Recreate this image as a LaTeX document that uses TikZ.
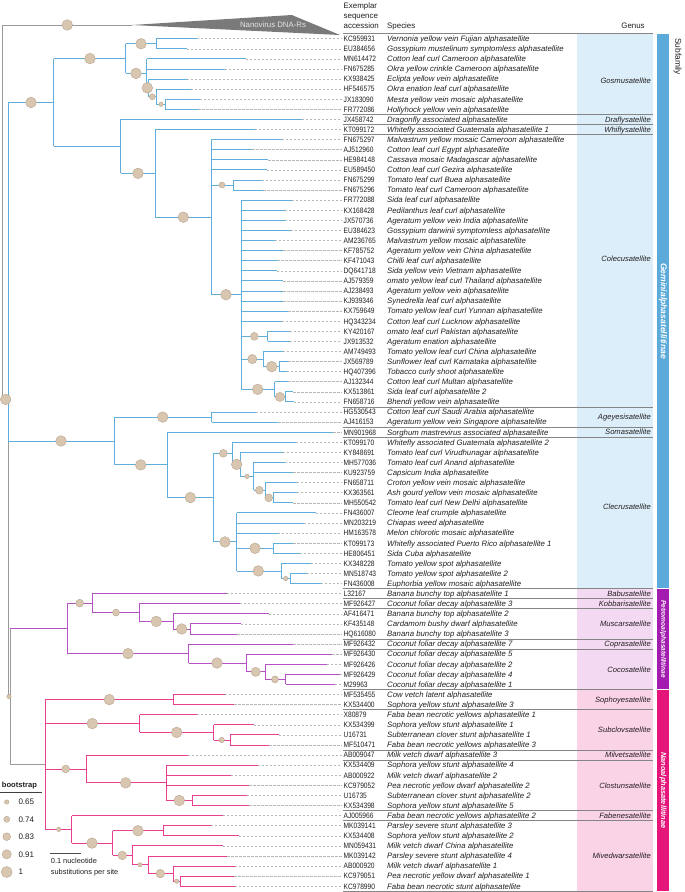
\documentclass[tikz,border=0pt]{standalone}
\usepackage{fontspec}
\setmainfont{Liberation Sans}
\newfontfamily\accfont[FakeStretch=0.85]{Liberation Sans}
\definecolor{gem}{HTML}{5FAEDC}
\definecolor{gemlt}{HTML}{9ED0EE}
\definecolor{pet}{HTML}{B452C4}
\definecolor{nan}{HTML}{E8408E}
\definecolor{grl}{HTML}{9A9A9A}
\definecolor{txt}{HTML}{231F20}
\definecolor{bubf}{HTML}{D8C6B0}
\definecolor{bubd}{HTML}{B9A48E}
\definecolor{boxgem}{HTML}{DCEEF9}
\definecolor{boxpet}{HTML}{F4D9F2}
\definecolor{boxnan}{HTML}{FBD3E7}
\definecolor{bargem}{HTML}{5BAAD9}
\definecolor{barpet}{HTML}{A21CAF}
\definecolor{barnan}{HTML}{E5157A}
\pgfmathdeclarefunction{rowy}{1}{\pgfmathparse{38.7+(#1-1)*10.09}}
\tikzset{
  gl/.style={draw=gem, line width=0.9pt, line cap=square},
  pl/.style={draw=pet, line width=0.9pt, line cap=square},
  nl/.style={draw=nan, line width=0.9pt, line cap=square},
  gr/.style={draw=grl, line width=0.9pt, line cap=square},
  lead/.style={draw=black!28, line width=0.55pt, dash pattern=on 2.2pt off 1.8pt},
  bub/.style={fill=bubf, draw=bubd, line width=0.4pt},
  sep/.style={draw=black!48, line width=0.6pt},
  acc/.style={anchor=base west, inner sep=0pt, text=txt, font=\accfont\fontsize{7.8}{9}\selectfont},
  spc/.style={anchor=base west, inner sep=0pt, text=txt, font=\fontsize{7.8}{9}\selectfont\itshape},
  gen/.style={anchor=base east, inner sep=0pt, text=txt, font=\fontsize{7.6}{9}\selectfont\itshape},
  hdr/.style={anchor=base west, inner sep=0pt, text=txt, font=\fontsize{7.9}{9}\selectfont},
  sub/.style={rotate=-90, inner sep=0pt, text=white, font=\bfseries\itshape},
  leg/.style={anchor=base west, inner sep=0pt, text=txt, font=\fontsize{8}{9}\selectfont}
}
\newcommand\mkleaf[4][gl]{\draw[#1] (#3,{rowy(#2)}) -- (#4,{rowy(#2)});
  \draw[lead] (#4,{rowy(#2)}) -- (341.5,{rowy(#2)});}
\newcommand\mkclade[6][gl]{\draw[#1] (#2,{rowy(#4)}) -- (#3,{rowy(#4)});
  \draw[#1] (#3,{rowy(#5)}) -- (#3,{rowy(#6)});}
\newcommand\mkbub[3]{\filldraw[bub] (#2,{rowy(#3)}) circle (#1pt);}
\begin{document}
\begin{tikzpicture}[x=1pt,y=-1pt]
\useasboundingbox (0,0) rectangle (685,892);
\fill[white] (0,0) rectangle (685,892);
% ---------- genus boxes and subfamily bars
\fill[boxgem] (577,{rowy(0)+5.05}) rectangle (653,{rowy(55)+5.05});
\fill[boxpet] (577,{rowy(55)+5.05}) rectangle (653,{rowy(65)+5.05});
\fill[boxnan] (577,{rowy(65)+5.05}) rectangle (653,{rowy(85)+5.05});
\fill[bargem] (657,{rowy(0)+5.05}) rectangle (669,{rowy(55)+4.6});
\fill[barpet] (657,{rowy(55)+5.5}) rectangle (669,{rowy(65)+4.6});
\fill[barnan] (657,{rowy(65)+5.5}) rectangle (669,{rowy(85)+5.05});
\node[sub, font=\fontsize{8.6}{9}\selectfont\bfseries\itshape] (sfg) at (663,{(rowy(0)+rowy(55))/2+5.05}) {Geminialphasatellitinae};
\node[sub, font=\fontsize{6.6}{8}\selectfont\bfseries\itshape] (sfp) at (663,{(rowy(55)+rowy(65))/2+5.05}) {Petromoalphasatellitinae};
\node[sub, font=\fontsize{7.4}{9}\selectfont\bfseries\itshape] (sfn) at (663,{(rowy(65)+rowy(85))/2+5.05}) {Nanoalphasatellitinae};
\node[rotate=-90, inner sep=0pt, text=txt, font=\fontsize{8.4}{10}\selectfont] (sfh) at (677.5,56.5) {Subfamily};
% separators
\foreach \b in {0,8,9,10,37,39,40,55,56,57,60,61,65,67,71,72,77,78,85}
  \draw[sep] (343,{rowy(\b)+5.05}) -- (653,{rowy(\b)+5.05});
% headers
\node[hdr] (h1) at (343.5,8.8) {Exemplar};
\node[hdr] (h2) at (343.5,18.6) {sequence};
\node[hdr] (h3) at (343.5,28.3) {accession};
\node[hdr] (h4) at (387,28.3) {Species};
\node[hdr, anchor=base] (h5) at (633,28.3) {Genus};
% genus labels
\node[gen] (g1) at (651,{81+2.7}) {Gosmusatellite};
\node[gen] (g2) at (651,{rowy(9)+2.7}) {Draflysatellite};
\node[gen] (g3) at (651,{rowy(10)+2.7}) {Whiflysatellite};
\node[gen] (g4) at (651,{259+2.7}) {Colecusatellite};
\node[gen] (g5) at (651,{rowy(38.5)+2.7}) {Ageyesisatellite};
\node[gen] (g6) at (651,{rowy(40)+2.7}) {Somasatellite};
\node[gen] (g7) at (651,{507+2.7}) {Clecrusatellite};
\node[gen] (g8) at (651,{rowy(56)+2.7}) {Babusatellite};
\node[gen] (g9) at (651,{rowy(57)+2.7}) {Kobbarisatellite};
\node[gen] (g10) at (651,{rowy(59)+2.7}) {Muscarsatellite};
\node[gen] (g11) at (651,{rowy(61)+2.7}) {Coprasatellite};
\node[gen] (g12) at (651,{rowy(63.5)+2.7}) {Cocosatellite};
\node[gen] (g13) at (651,{rowy(66.5)+2.7}) {Sophoyesatellite};
\node[gen] (g14) at (651,{rowy(69.5)+2.7}) {Subclovsatellite};
\node[gen] (g15) at (651,{rowy(72)+2.7}) {Milvetsatellite};
\node[gen] (g16) at (651,{rowy(75)+2.7}) {Clostunsatellite};
\node[gen] (g17) at (651,{rowy(78)+2.7}) {Fabenesatellite};
\node[gen] (g18) at (651,{rowy(82)+2.7}) {Mivedwarsatellite};
% accession and species
\foreach \i/\ac/\sn in {1/KC959931/Vernonia yellow vein Fujian alphasatellite,
2/EU384656/Gossypium mustelinum symptomless alphasatellite,
3/MN614472/Cotton leaf curl Cameroon alphasatellite,
4/FN675285/Okra yellow crinkle Cameroon alphasatellite,
5/KX938425/Eclipta yellow vein alphasatellite,
6/HF546575/Okra enation leaf curl alphasatellite,
7/JX183090/Mesta yellow vein mosaic alphasatellite,
8/FR772086/Hollyhock yellow vein alphasatellite,
9/JX458742/Dragonfly associated alphasatellite,
10/KT099172/Whitefly associated Guatemala alphasatellite 1,
11/FN675297/Malvastrum yellow mosaic Cameroon alphasatellite,
12/AJ512960/Cotton leaf curl Egypt alphasatellite,
13/HE984148/Cassava mosaic Madagascar alphasatellite,
14/EU589450/Cotton leaf curl Gezira alphasatellite,
15/FN675299/Tomato leaf curl Buea alphasatellite,
16/FN675296/Tomato leaf curl Cameroon alphasatellite,
17/FR772088/Sida leaf curl alphasatellite,
18/KX168428/Pedilanthus leaf curl alphasatellite,
19/JX570736/Ageratum yellow vein India alphasatellite,
20/EU384623/Gossypium darwinii symptomless alphasatellite,
21/AM236765/Malvastrum yellow mosaic alphasatellite,
22/KF785752/Ageratum yellow vein China alphasatellite,
23/KF471043/Chilli leaf curl alphasatellite,
24/DQ641718/Sida yellow vein Vietnam alphasatellite,
25/AJ579359/omato yellow leaf curl Thailand alphasatellite,
26/AJ238493/Ageratum yellow vein alphasatellite,
27/KJ939346/Synedrella leaf curl alphasatellite,
28/KX759649/Tomato yellow leaf curl Yunnan alphasatellite,
29/HQ343234/Cotton leaf curl Lucknow alphasatellite,
30/KY420167/omato leaf curl Pakistan alphasatellite,
31/JX913532/Ageratum enation alphasatellite,
32/AM749493/Tomato yellow leaf curl China alphasatellite,
33/JX569789/Sunflower leaf curl Karnataka alphasatellite,
34/HQ407396/Tobacco curly shoot alphasatellite,
35/AJ132344/Cotton leaf curl Multan alphasatellite,
36/KX513861/Sida leaf curl alphasatellite 2,
37/FN658716/Bhendi yellow vein alphasatellite,
38/HG530543/Cotton leaf curl Saudi Arabia alphasatellite,
39/AJ416153/Ageratum yellow vein Singapore alphasatellite,
40/MN901968/Sorghum mastrevirus associated alphasatellite,
41/KT099170/Whitefly associated Guatemala alphasatellite 2,
42/KY848691/Tomato leaf curl Virudhunagar alphasatellite,
43/MH577036/Tomato leaf curl Anand alphasatellite,
44/KU923759/Capsicum India alphasatellite,
45/FN658711/Croton yellow vein mosaic alphasatellite,
46/KX363561/Ash gourd yellow vein mosaic alphasatellite,
47/MH550542/Tomato leaf curl New Delhi alphasatellite,
48/FN436007/Cleome leaf crumple alphasatellite,
49/MN203219/Chiapas weed alphasatellite,
50/HM163578/Melon chlorotic mosaic alphasatellite,
51/KT099173/Whitefly associated Puerto Rico alphasatellite 1,
52/HE806451/Sida Cuba alphasatellite,
53/KX348228/Tomato yellow spot alphasatellite,
54/MN518743/Tomato yellow spot alphasatellite 2,
55/FN436008/Euphorbia yellow mosaic alphasatellite,
56/L32167/Banana bunchy top alphasatellite 1,
57/MF926427/Coconut foliar decay alphasatellite 3,
58/AF416471/Banana bunchy top alphasatellite 2,
59/KF435148/Cardamom bushy dwarf alphasatellite,
60/HQ616080/Banana bunchy top alphasatellite 3,
61/MF926432/Coconut foliar decay alphasatellite 7,
62/MF926430/Coconut foliar decay alphasatellite 5,
63/MF926426/Coconut foliar decay alphasatellite 2,
64/MF926429/Coconut foliar decay alphasatellite 4,
65/M29963/Coconut foliar decay alphasatellite 1,
66/MF535455/Cow vetch latent alphasatellite,
67/KX534400/Sophora yellow stunt alphasatellite 3,
68/X80879/Faba bean necrotic yellows alphasatellite 1,
69/KX534399/Sophora yellow stunt alphasatellite 1,
70/U16731/Subterranean clover stunt alphasatellite 1,
71/MF510471/Faba bean necrotic yellows alphasatellite 3,
72/AB009047/Milk vetch dwarf alphasatellite 3,
73/KX534409/Sophora yellow stunt alphasatellite 4,
74/AB000922/Milk vetch dwarf alphasatellite 2,
75/KC979052/Pea necrotic yellow dwarf alphasatellite 2,
76/U16735/Subterranean clover stunt alphasatellite 2,
77/KX534398/Sophora yellow stunt alphasatellite 5,
78/AJ005966/Faba bean necrotic yellows alphasatellite 2,
79/MK039141/Parsley severe stunt alphasatellite 3,
80/KX534408/Sophora yellow stunt alphasatellite 2,
81/MN059431/Milk vetch dwarf China alphasatellite,
82/MK039142/Parsley severe stunt alphasatellite 4,
83/AB000920/Milk vetch dwarf alphasatellite 1,
84/KC979051/Pea necrotic yellow dwarf alphasatellite 1,
85/KC978990/Faba bean necrotic stunt alphasatellite}
{
  \node[acc] (a\i) at (343.5,{rowy(\i)+2.8}) {\ac};
  \node[spc] (s\i) at (387,{rowy(\i)+2.8}) {\sn};
}
% ---------- tree: root and outgroup
\fill[black!52] (131.7,25) -- (291.7,15) -- (340,35) -- cycle;
\node[inner sep=0pt, text=black!10, font=\fontsize{7.8}{9}\selectfont] (nano) at (273,24.5) {Nanovirus DNA-Rs};
\draw[gr] (131.7,25) -- (2.7,25) -- (2.7,{rowy(36.75)}) -- (8.3,{rowy(36.75)});
\draw[gl] (8.3,{rowy(7.32)}) -- (8.3,{rowy(40.87)});
\draw[gr] (8.3,{rowy(40.87)}) -- (8.3,{rowy(66.19)});
% Gemini A
\mkclade{8.3}{53.7}{7.32}{2.97}{11.67}
\mkclade{53.7}{125.7}{2.97}{1.5}{4.44}
\mkclade{125.7}{156.3}{1.5}{1}{2}
\mkclade{125.7}{146.7}{4.44}{3}{5.875}
\mkclade{146.7}{148.3}{5.875}{5}{6.75}
\mkclade{148.3}{156.3}{6.75}{6}{7.5}
\mkclade{156.3}{165.3}{7.5}{7}{8}
\mkclade{53.7}{120.7}{11.67}{9}{14.34}
\mkclade{120.7}{155.3}{14.34}{10}{18.69}
\mkclade{155.3}{211}{18.69}{11}{26.375}
\mkclade{211}{233.3}{15.5}{15}{16}
\mkclade{211}{241}{26.375}{17}{35.75}
\mkclade{241}{267.7}{30.5}{30}{31}
\mkclade{241}{263.3}{32.75}{32}{33.5}
\mkclade{263.3}{279.3}{33.5}{33}{34}
\mkclade{241}{274.7}{35.75}{35}{36.5}
\mkclade{274.7}{285}{36.5}{36}{37}
% Gemini B
\mkclade{8.3}{114.3}{40.87}{38.5}{43.24}
\mkclade{114.3}{211.7}{38.5}{38}{39}
\mkclade{114.3}{167.3}{43.24}{40}{46.48}
\mkclade{167.3}{213.3}{46.48}{42.09}{50.875}
\mkclade{213.3}{232.7}{42.09}{41}{43.19}
\mkclade{232.7}{240.3}{43.19}{42}{44.375}
\mkclade{240.3}{253.7}{44.375}{43}{45.75}
\mkclade{253.7}{265}{45.75}{45}{46.5}
\mkclade{265}{273.3}{46.5}{46}{47}
\mkclade{213.3}{236.7}{50.875}{48}{53.75}
\mkclade{236.7}{273.3}{51.5}{51}{52}
\mkclade{236.7}{281}{53.75}{53}{54.5}
\mkclade{281}{290.3}{54.5}{54}{55}
% Petro + Nano
\draw[gr] (8.3,{rowy(66.19)}) -- (10,{rowy(66.19)});
\draw[gr] (10,{rowy(59.44)}) -- (10,{rowy(72.93)});
\mkclade[pl]{10}{67.3}{59.44}{56.94}{61.94}
\mkclade[pl]{67.3}{92.3}{56.94}{56}{57.875}
\mkclade[pl]{92.3}{139.3}{57.875}{57}{58.75}
\mkclade[pl]{139.3}{173.3}{58.75}{58}{59.5}
\mkclade[pl]{173.3}{190.3}{59.5}{59}{60}
\mkclade[pl]{67.3}{188.7}{61.94}{61}{62.875}
\mkclade[pl]{188.7}{246}{62.875}{62}{63.75}
\mkclade[pl]{246}{265.3}{63.75}{63}{64.5}
\mkclade[pl]{265.3}{285.7}{64.5}{64}{65}
\draw[gr] (10,{rowy(72.93)}) -- (45.3,{rowy(72.93)});
\draw[nl] (45.3,{rowy(66.5)}) -- (45.3,{rowy(79.36)});
\mkclade[nl]{45.3}{173}{66.5}{66}{67}
\mkclade[nl]{45.3}{139.7}{68.875}{68}{69.75}
\mkclade[nl]{139.7}{213.7}{69.75}{69}{70.5}
\mkclade[nl]{213.7}{230}{70.5}{70}{71}
\mkclade[nl]{45.3}{86}{73.375}{72}{74.75}
\mkclade[nl]{86}{166.3}{74.75}{73}{76.5}
\mkclade[nl]{166.3}{192.3}{76.5}{76}{77}
\mkclade[nl]{45.3}{71.7}{79.36}{78}{80.72}
\mkclade[nl]{71.7}{112.7}{80.72}{79.5}{81.94}
\mkclade[nl]{112.7}{163.3}{79.5}{79}{80}
\mkclade[nl]{112.7}{132.3}{81.94}{81}{82.875}
\mkclade[nl]{132.3}{148}{82.875}{82}{83.75}
\mkclade[nl]{148}{173}{83.75}{83}{84.5}
\mkclade[nl]{173}{180.3}{84.5}{84}{85}
% leaves
\foreach \r/\xa/\xb in {1/156.3/196.7, 2/156.3/186.7, 3/146.7/245.7, 4/146.7/225, 5/148.3/186.7, 6/156.3/190.7, 7/165.3/200, 8/165.3/198.3, 9/120.7/301.7, 10/155.3/255, 11/211/281.7, 12/211/252.3, 13/211/268.3, 14/211/266.7, 15/233.3/261.7, 16/233.3/263.3, 17/241/291.7, 18/241/285, 19/241/285, 20/241/290.7, 21/241/275, 22/241/283.3, 23/241/277.3, 24/241/276.7, 25/241/283.3, 26/241/283.3, 27/241/283.3, 28/241/288.3, 29/241/281.7, 30/267.7/290, 31/267.7/290, 32/263.3/282.7, 33/279.3/288.3, 34/279.3/286.7, 35/274.7/288.3, 36/285/293.3, 37/285/294, 38/211.7/256, 39/211.7/278.3, 40/167.3/333.3, 41/232.7/296, 42/240.3/282.7, 43/253.7/285, 44/253.7/293.3, 45/265/296.7, 46/273.3/296.7, 47/273.3/293.3, 48/236.7/316, 49/236.7/304, 50/236.7/277.7, 51/273.3/293.3, 52/273.3/300, 53/281/310.7, 54/290.3/306.7, 55/290.3/320.7}
  {\mkleaf{\r}{\xa}{\xb}}
\foreach \r/\xa/\xb in {56/92.3/226.7, 57/139.3/240, 58/173.3/268.7, 59/190.3/241, 60/190.3/237.3, 61/188.7/293.3, 62/246/332.3, 63/265.3/326.7, 64/285.7/340, 65/285.7/335}
  {\mkleaf[pl]{\r}{\xa}{\xb}}
\foreach \r/\xa/\xb in {66/173/225, 67/173/234.3, 68/139.7/196.7, 69/213.7/254, 70/230/279, 71/230/269.3, 72/86/187.7, 73/166.3/257.7, 74/166.3/230.7, 75/166.3/249.3, 76/192.3/246.7, 77/192.3/249.3, 78/71.7/222.7, 79/163.3/211, 80/163.3/239, 81/132.3/222.7, 82/148/227.3, 83/173/235, 84/180.3/234.3, 85/180.3/235}
  {\mkleaf[nl]{\r}{\xa}{\xb}}
% bubbles
\filldraw[bub] (67.3,25) circle (5.3pt);
\mkbub{5.3}{5.7}{36.75}
\mkbub{5.3}{31}{7.32}
\mkbub{5.3}{90}{2.97}
\mkbub{5.3}{141}{1.5}
\mkbub{5.3}{136}{4.44}
\mkbub{5.3}{147.3}{5.875}
\mkbub{3}{152.3}{6.75}
\mkbub{2.2}{161}{7.5}
\mkbub{5.3}{138}{14.34}
\mkbub{5.3}{183.3}{18.69}
\mkbub{3}{222}{15.5}
\mkbub{5.3}{226}{26.375}
\mkbub{3.9}{254.3}{30.5}
\mkbub{4.6}{252.3}{32.75}
\mkbub{5.3}{271.7}{33.5}
\mkbub{5.3}{257.7}{35.75}
\mkbub{4.6}{280}{36.5}
\mkbub{5.3}{61}{40.87}
\mkbub{5.3}{162.7}{38.5}
\mkbub{5.3}{140.7}{43.24}
\mkbub{5.3}{190.3}{46.48}
\mkbub{3.9}{223.3}{42.09}
\mkbub{5.3}{236.7}{43.19}
\mkbub{2.2}{247}{44.375}
\mkbub{3.9}{259.3}{45.75}
\mkbub{3.9}{268.7}{46.5}
\mkbub{5.3}{225}{50.875}
\mkbub{5.3}{255}{51.5}
\mkbub{5.3}{258.3}{53.75}
\mkbub{2.2}{285.7}{54.5}
\mkbub{2.2}{9}{66.19}
\mkbub{3.9}{79.7}{56.94}
\mkbub{3.5}{116}{57.875}
\mkbub{5.3}{156.3}{58.75}
\mkbub{5.3}{181.7}{59.5}
\mkbub{5.3}{128}{61.94}
\mkbub{5.3}{217}{62.875}
\mkbub{4.6}{255.7}{63.75}
\mkbub{3.5}{275}{64.5}
\mkbub{5.3}{109.3}{66.5}
\mkbub{5.3}{92.3}{68.875}
\mkbub{5.3}{176.7}{69.75}
\mkbub{2.7}{221.7}{70.5}
\mkbub{3.9}{65.7}{73.375}
\mkbub{5.3}{125.7}{74.75}
\mkbub{5.3}{179.3}{76.5}
\mkbub{2.2}{58.7}{79.36}
\mkbub{5.3}{92}{80.72}
\mkbub{5.3}{138}{79.5}
\mkbub{4.3}{122.3}{81.94}
\mkbub{2.2}{140}{82.875}
\mkbub{4.3}{160.3}{83.75}
\mkbub{2.2}{176.7}{84.5}
% ---------- legend
\node[leg, font=\fontsize{7.6}{9}\selectfont\bfseries] (bt) at (1.7,787) {bootstrap};
\draw[draw=black!75, line width=0.6pt] (0,792) -- (42.3,792);
\foreach \yy/\rr/\lab in {802/2.2/0.65, 819.3/3/0.74, 836.7/3.9/0.83, 854.3/4.6/0.91, 872/5.5/1}
{
  \filldraw[bub] (6.7,\yy) circle (\rr pt);
  \node[leg] (l\lab) at (18.3,{\yy+2.9}) {\lab};
}
\draw[draw=black!70, line width=0.9pt] (50,853.3) -- (80.7,853.3);
\node[leg, font=\fontsize{7.4}{9}\selectfont] (sc1) at (50.7,863.3) {0.1 nucleotide};
\node[leg, font=\fontsize{7.4}{9}\selectfont] (sc2) at (50.7,874.9) {substitutions per site};
\end{tikzpicture}
\end{document}
